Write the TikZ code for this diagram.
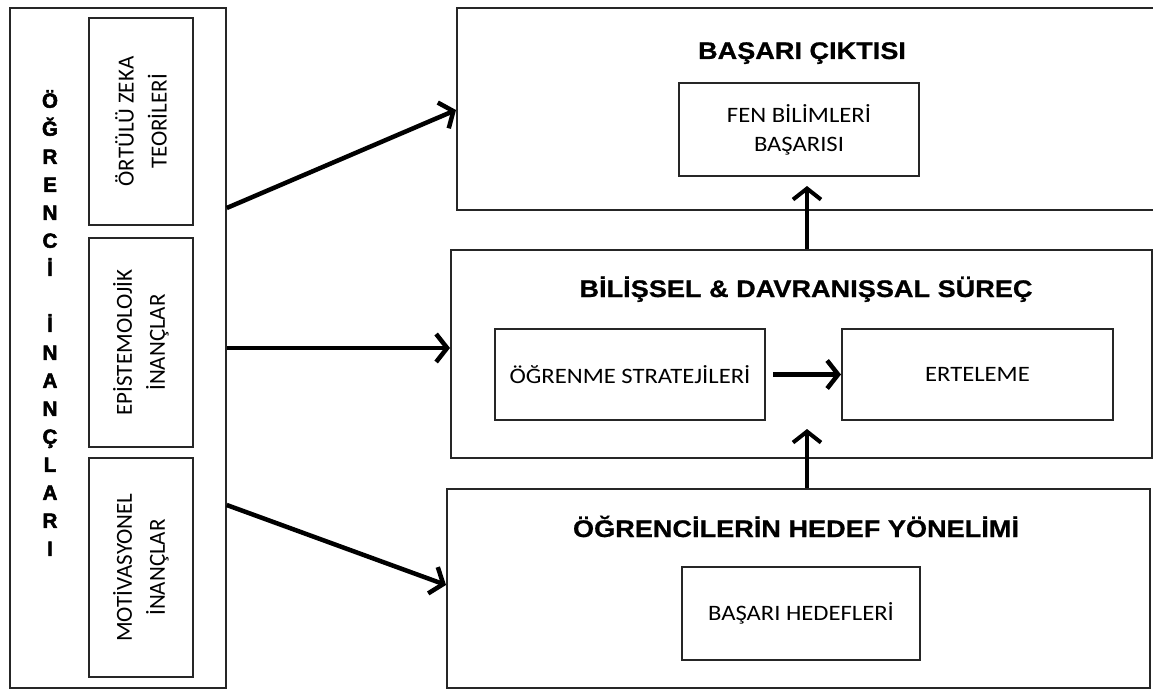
\documentclass[tikz,border=0pt]{standalone}
\usepackage{fontspec}
\setmainfont{Carlito}
\newfontfamily\headfont[FakeStretch=1.13,BoldFeatures={FakeBold=0.8}]{Liberation Sans}
\newfontfamily\heavyfont[BoldFeatures={FakeBold=2.5}]{Liberation Sans}
\newfontfamily\labelfont[FakeStretch=1.12]{Carlito}
\usetikzlibrary{positioning,arrows.meta}

\begin{document}
\begin{tikzpicture}[x=1pt,y=-1pt,
  panel/.style={draw=black!85,line width=2pt,inner sep=0pt},
  inbox/.style={draw=black!85,line width=2pt,inner sep=0pt,align=center,
    font=\labelfont\fontsize{22}{29}\selectfont},
  sidebox/.style={draw=black!85,line width=2pt,inner sep=0pt,align=center,
    rotate=90,minimum height=104pt,font=\fontsize{23}{33}\selectfont},
  title/.style={anchor=base,inner sep=0pt,font=\headfont\bfseries\fontsize{24}{29}\selectfont},
  link/.style={line width=4.5pt,-{Straight Barb[length=11pt,width=28pt]}}]
\fill[white] (0,0) rectangle (1153,693);
\useasboundingbox (0,0) rectangle (1153,693);
% student beliefs
\node[panel,line width=1.5pt,minimum width=216pt,minimum height=680pt] (beliefs) at (118,348) {};
\node[inner sep=0pt,align=center,font=\heavyfont\bfseries\fontsize{20.5}{28}\selectfont]
  (beliefword) at (50,323) {Ö\\Ğ\\R\\E\\N\\C\\İ\\[28pt]İ\\N\\A\\N\\Ç\\L\\A\\R\\I};
\node[sidebox,minimum width=207pt] (implicit) at (141,121.5) {ÖRTÜLÜ ZEKA\\TEORİLERİ};
\node[sidebox,minimum width=209pt] (epistemic) at (141,342.5) {EPİSTEMOLOJİK\\İNANÇLAR};
\node[sidebox,minimum width=219pt] (motivation) at (141,567.5) {MOTİVASYONEL\\İNANÇLAR};
% outcome
\node[panel,minimum width=708pt,minimum height=202pt] (outcome) at (811,109) {};
\node[title] (outcometitle) at (802,59) {BAŞARI ÇIKTISI};
\node[inbox,minimum width=240pt,minimum height=93pt] (science) at (799,129.5) {FEN BİLİMLERİ\\BAŞARISI};
% process
\node[panel,minimum width=701pt,minimum height=208pt] (process) at (801.5,354) {};
\node[title] (processtitle) at (806,297) {BİLİŞSEL \& DAVRANIŞSAL SÜREÇ};
\node[inbox,minimum width=270pt,minimum height=91pt] (strategy) at (630,374.5) {ÖĞRENME STRATEJİLERİ};
\node[inbox,minimum width=271pt,minimum height=91pt] (delay) at (977.5,374.5) {ERTELEME};
% goal orientation
\node[panel,minimum width=703pt,minimum height=199pt] (goal) at (798.5,588.5) {};
\node[title] (goaltitle) at (796,537) {ÖĞRENCİLERİN HEDEF YÖNELİMİ};
\node[inbox,minimum width=238pt,minimum height=93pt] (target) at (801,613.5) {BAŞARI HEDEFLERİ};
% arrows
\coordinate (outtip) at (807,186);
\coordinate (proctip) at (807,429);
\draw[link] (beliefs.east |- 0,208) -- (outcome.west |- 0,110);
\draw[link] (beliefs.east |- 0,348) -- (process.west |- 0,348);
\draw[link] (beliefs.east |- 0,505) -- (goal.west |- 0,585);
\draw[link,line width=4pt] (process.north -| outtip) -- (outtip);
\draw[link,line width=4pt] (goal.north -| proctip) -- (proctip);
\draw[link] ([xshift=7pt]strategy.east) -- (delay.west);
\end{tikzpicture}
\end{document}
